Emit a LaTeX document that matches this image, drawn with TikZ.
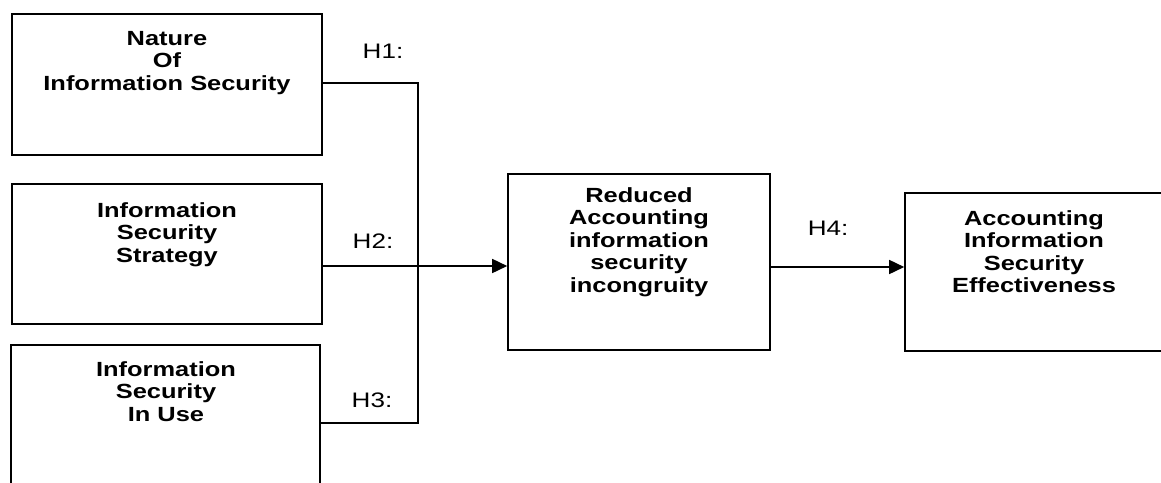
\documentclass[tikz,border=0pt]{standalone}
\usepackage{fontspec}
\setmainfont{Liberation Sans}[FakeStretch=1.24]
\usetikzlibrary{arrows.meta}
\tikzset{
  box/.style={draw, line width=1.6pt, rectangle, inner sep=0pt},
  boxtext/.style={anchor=north, align=center, inner sep=0pt, font=\fontsize{20.5}{22.5}\selectfont\bfseries},
  hlabel/.style={inner sep=0pt, font=\fontsize{21}{23}\selectfont},
  conn/.style={line width=1.6pt},
  arr/.style={conn, -{Triangle[length=15pt,width=14pt]}}
}
\begin{document}
\begin{tikzpicture}[x=1pt,y=-1pt]
\useasboundingbox (0,0) rectangle (1161,482);
\clip (0,0) rectangle (1161,482);
% boxes
\node[box, minimum width=310pt, minimum height=141pt] (n1) at (167,84.5) {};
\node[box, minimum width=310pt, minimum height=140pt] (n2) at (167,254) {};
\node[box, minimum width=309pt, minimum height=140pt] (n3) at (165.5,415) {};
\node[box, minimum width=262pt, minimum height=176pt] (n4) at (639,262) {};
\node[box, minimum width=258pt, minimum height=158pt] (n5) at (1034,272) {};
% texts
\node[boxtext] (t1) at (167,31) {Nature\\Of\\Information Security};
\node[boxtext] (t2) at (167,202) {Information\\Security\\Strategy};
\node[boxtext] (t3) at (166,361) {Information\\Security\\In Use};
\node[boxtext] (t4) at (639,187) {Reduced\\Accounting\\information\\security\\incongruity};
\node[boxtext] (t5) at (1034,210) {Accounting\\Information\\Security\\Effectiveness};
% labels
\node[hlabel] (h1) at (383,51) {H1:};
\node[hlabel] (h2) at (373,241) {H2:};
\node[hlabel] (h3) at (372,400) {H3:};
\node[hlabel] (h4) at (828,228) {H4:};
% junction coordinates
\coordinate (j1) at (418,83);
\coordinate (jm) at (418,266);
\coordinate (j3) at (418,423);
\coordinate (k) at (838,267);
% connectors
\draw[conn] (n1.east |- j1) -- (j1) -- (j3) -- (n3.east |- j3);
\draw[arr] (n2.east |- jm) -- (jm) -- (n4.west |- jm);
\draw[arr] (n4.east |- k) -- (n5.west |- k);
\end{tikzpicture}
\end{document}
